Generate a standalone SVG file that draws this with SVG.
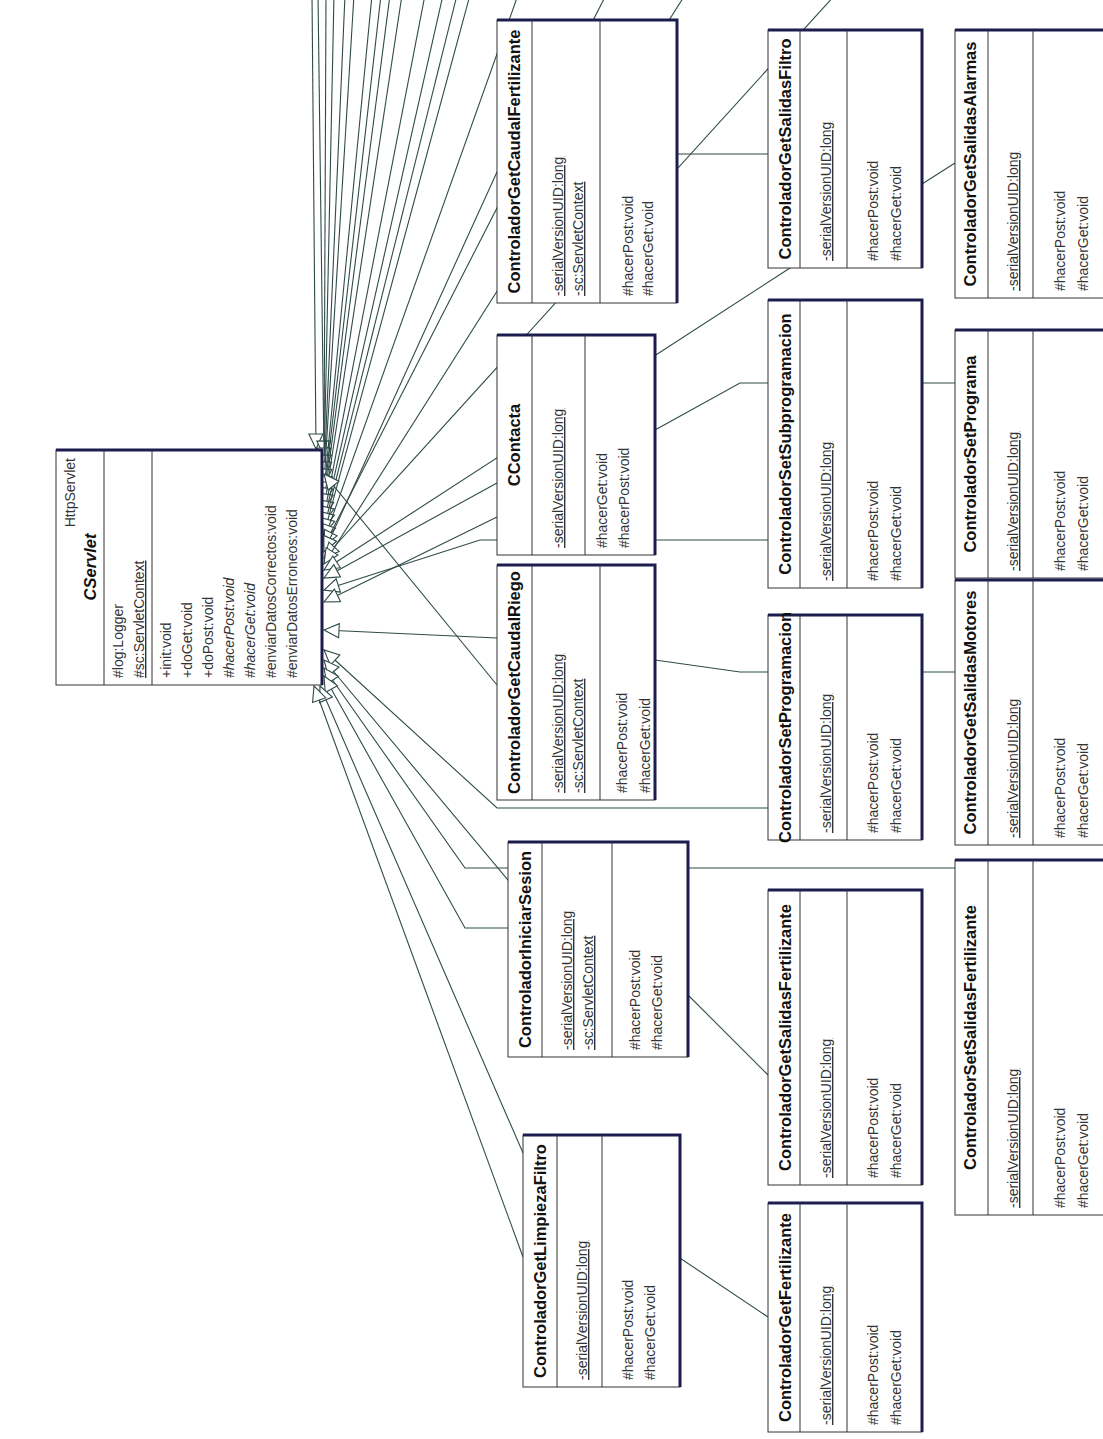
<svg xmlns="http://www.w3.org/2000/svg" width="1103" height="1439" viewBox="0 0 1103 1439">
<style>
.box{fill:#fff;stroke:#333;stroke-width:1}
.edge{fill:none;stroke:#1c1c4e;stroke-width:3}
.div{stroke:#333;stroke-width:1}
.name{font-family:"Liberation Sans",Arial,sans-serif;font-size:16.5px;font-weight:bold;fill:#111;text-anchor:middle}
.mem{font-family:"Liberation Sans",Arial,sans-serif;font-size:14px;fill:#333}
.u{text-decoration:underline}
.i{font-style:italic}
.conn{fill:none;stroke:#2f4b48;stroke-width:1.1;marker-end:url(#gen)}
</style>
<defs>
<marker id="gen" markerUnits="userSpaceOnUse" markerWidth="18" markerHeight="16" refX="15" refY="7" orient="auto" overflow="visible">
<path d="M0,0 L15,7 L0,14 Z" fill="#fff" stroke="#2f4b48" stroke-width="1.1"/>
</marker>
</defs>
<rect width="1103" height="1439" fill="#fff"/>

<!-- generalization connectors, all ending on CServlet -->
<g id="connectors">
<polyline class="conn" points="312,-5 316,449"/>
<polyline class="conn" points="318,-5 324,456"/>
<polyline class="conn" points="326,-5 324,463"/>
<polyline class="conn" points="334,-5 324,470"/>
<polyline class="conn" points="345,-5 324,477"/>
<polyline class="conn" points="354,-5 324,484"/>
<polyline class="conn" points="372,-5 324,491"/>
<polyline class="conn" points="381,-5 324,497"/>
<polyline class="conn" points="390,-5 324,503"/>
<polyline class="conn" points="402,-5 324,509"/>
<polyline class="conn" points="425,-5 324,516"/>
<polyline class="conn" points="443,-5 324,522"/>
<polyline class="conn" points="457,-5 324,528"/>
<polyline class="conn" points="470,-5 324,534"/>
<polyline class="conn" points="518,-5 324,540"/>
<polyline class="conn" points="606,-5 324,546"/>
<polyline class="conn" points="768,154 677,154 497,172 324,552"/>
<polyline class="conn" points="835,-5 324,558"/>
<polyline class="conn" points="685,-5 324,564"/>
<polyline class="conn" points="955,163 790,268 324,570"/>
<polyline class="conn" points="497,685 324,474"/>
<polyline class="conn" points="497,483 324,578"/>
<polyline class="conn" points="768,540 480,540 324,590"/>
<polyline class="conn" points="955,383 740,383 655,430 497,517 324,602"/>
<polyline class="conn" points="955,672 740,672 655,660 497,638 324,630"/>
<polyline class="conn" points="768,808 497,808 324,650"/>
<polyline class="conn" points="768,1075 688,995 508,880 324,660"/>
<polyline class="conn" points="955,868 465,868 324,668"/>
<polyline class="conn" points="508,928 465,928 324,676"/>
<polyline class="conn" points="768,1317 523,1153 320,686"/>
<polyline class="conn" points="523,1257 314,686"/>
</g>

<!-- superclass -->
<g id="CServlet" transform="translate(56,450)">
<rect class="box" width="266" height="235"/>
<path class="edge" d="M0,0 H266 V235"/>
<line class="div" x1="48" y1="0" x2="48" y2="235"/>
<line class="div" x1="96" y1="0" x2="96" y2="235"/>
<text class="mem" text-anchor="end" transform="translate(19,8) rotate(-90)">HttpServlet</text>
<text class="name i" transform="translate(40,117) rotate(-90)">CServlet</text>
<text class="mem" transform="translate(67,228) rotate(-90)">#log:Logger</text>
<text class="mem u" transform="translate(88,228) rotate(-90)">#sc:ServletContext</text>
<text class="mem" transform="translate(115,228) rotate(-90)">+init:void</text>
<text class="mem" transform="translate(136,228) rotate(-90)">+doGet:void</text>
<text class="mem" transform="translate(157,228) rotate(-90)">+doPost:void</text>
<text class="mem i" transform="translate(178,228) rotate(-90)">#hacerPost:void</text>
<text class="mem i" transform="translate(199,228) rotate(-90)">#hacerGet:void</text>
<text class="mem" transform="translate(220,228) rotate(-90)">#enviarDatosCorrectos:void</text>
<text class="mem" transform="translate(241,228) rotate(-90)">#enviarDatosErroneos:void</text>
</g>

<g id="ControladorGetCaudalFertilizante" transform="translate(497,20)">
<rect class="box" width="180" height="283"/>
<path class="edge" d="M0,0 H180 V283"/>
<line class="div" x1="35" y1="0" x2="35" y2="283"/>
<line class="div" x1="103" y1="0" x2="103" y2="283"/>
<text class="name" transform="translate(23,141.5) rotate(-90)">ControladorGetCaudalFertilizante</text>
<text class="mem u" transform="translate(66,276) rotate(-90)">-serialVersionUID:long</text>
<text class="mem u" transform="translate(86,276) rotate(-90)">-sc:ServletContext</text>
<text class="mem" transform="translate(136,276) rotate(-90)">#hacerPost:void</text>
<text class="mem" transform="translate(156,276) rotate(-90)">#hacerGet:void</text>
</g>

<g id="ControladorGetSalidasFiltro" transform="translate(768,30)">
<rect class="box" width="154" height="238"/>
<path class="edge" d="M0,0 H154 V238"/>
<line class="div" x1="32" y1="0" x2="32" y2="238"/>
<line class="div" x1="79" y1="0" x2="79" y2="238"/>
<text class="name" transform="translate(23,119) rotate(-90)">ControladorGetSalidasFiltro</text>
<text class="mem u" transform="translate(63,231) rotate(-90)">-serialVersionUID:long</text>
<text class="mem" transform="translate(110,231) rotate(-90)">#hacerPost:void</text>
<text class="mem" transform="translate(133,231) rotate(-90)">#hacerGet:void</text>
</g>

<g id="ControladorGetSalidasAlarmas" transform="translate(955,30)">
<rect class="box" width="155" height="268"/>
<path class="edge" d="M0,0 H155 V268"/>
<line class="div" x1="33" y1="0" x2="33" y2="268"/>
<line class="div" x1="78" y1="0" x2="78" y2="268"/>
<text class="name" transform="translate(21,134) rotate(-90)">ControladorGetSalidasAlarmas</text>
<text class="mem u" transform="translate(63,261) rotate(-90)">-serialVersionUID:long</text>
<text class="mem" transform="translate(110,261) rotate(-90)">#hacerPost:void</text>
<text class="mem" transform="translate(133,261) rotate(-90)">#hacerGet:void</text>
</g>

<g id="CContacta" transform="translate(497,335)">
<rect class="box" width="158" height="220"/>
<path class="edge" d="M0,0 H158 V220"/>
<line class="div" x1="35" y1="0" x2="35" y2="220"/>
<line class="div" x1="88" y1="0" x2="88" y2="220"/>
<text class="name" transform="translate(23,110) rotate(-90)">CContacta</text>
<text class="mem u" transform="translate(66,213) rotate(-90)">-serialVersionUID:long</text>
<text class="mem" transform="translate(110,213) rotate(-90)">#hacerGet:void</text>
<text class="mem" transform="translate(132,213) rotate(-90)">#hacerPost:void</text>
</g>

<g id="ControladorSetSubprogramacion" transform="translate(768,300)">
<rect class="box" width="154" height="288"/>
<path class="edge" d="M0,0 H154 V288"/>
<line class="div" x1="32" y1="0" x2="32" y2="288"/>
<line class="div" x1="79" y1="0" x2="79" y2="288"/>
<text class="name" transform="translate(23,144) rotate(-90)">ControladorSetSubprogramacion</text>
<text class="mem u" transform="translate(63,281) rotate(-90)">-serialVersionUID:long</text>
<text class="mem" transform="translate(110,281) rotate(-90)">#hacerPost:void</text>
<text class="mem" transform="translate(133,281) rotate(-90)">#hacerGet:void</text>
</g>

<g id="ControladorSetPrograma" transform="translate(955,330)">
<rect class="box" width="155" height="248"/>
<path class="edge" d="M0,0 H155 V248"/>
<line class="div" x1="33" y1="0" x2="33" y2="248"/>
<line class="div" x1="78" y1="0" x2="78" y2="248"/>
<text class="name" transform="translate(21,124) rotate(-90)">ControladorSetPrograma</text>
<text class="mem u" transform="translate(63,241) rotate(-90)">-serialVersionUID:long</text>
<text class="mem" transform="translate(110,241) rotate(-90)">#hacerPost:void</text>
<text class="mem" transform="translate(133,241) rotate(-90)">#hacerGet:void</text>
</g>

<g id="ControladorGetCaudalRiego" transform="translate(497,565)">
<rect class="box" width="158" height="235"/>
<path class="edge" d="M0,0 H158 V235"/>
<line class="div" x1="35" y1="0" x2="35" y2="235"/>
<line class="div" x1="103" y1="0" x2="103" y2="235"/>
<text class="name" transform="translate(23,117.5) rotate(-90)">ControladorGetCaudalRiego</text>
<text class="mem u" transform="translate(66,228) rotate(-90)">-serialVersionUID:long</text>
<text class="mem u" transform="translate(86,228) rotate(-90)">-sc:ServletContext</text>
<text class="mem" transform="translate(130,228) rotate(-90)">#hacerPost:void</text>
<text class="mem" transform="translate(153,228) rotate(-90)">#hacerGet:void</text>
</g>

<g id="ControladorSetProgramacion" transform="translate(768,615)">
<rect class="box" width="154" height="225"/>
<path class="edge" d="M0,0 H154 V225"/>
<line class="div" x1="32" y1="0" x2="32" y2="225"/>
<line class="div" x1="79" y1="0" x2="79" y2="225"/>
<text class="name" transform="translate(23,112.5) rotate(-90)">ControladorSetProgramacion</text>
<text class="mem u" transform="translate(63,218) rotate(-90)">-serialVersionUID:long</text>
<text class="mem" transform="translate(110,218) rotate(-90)">#hacerPost:void</text>
<text class="mem" transform="translate(133,218) rotate(-90)">#hacerGet:void</text>
</g>

<g id="ControladorGetSalidasMotores" transform="translate(955,580)">
<rect class="box" width="155" height="265"/>
<path class="edge" d="M0,0 H155 V265"/>
<line class="div" x1="33" y1="0" x2="33" y2="265"/>
<line class="div" x1="78" y1="0" x2="78" y2="265"/>
<text class="name" transform="translate(21,132.5) rotate(-90)">ControladorGetSalidasMotores</text>
<text class="mem u" transform="translate(63,258) rotate(-90)">-serialVersionUID:long</text>
<text class="mem" transform="translate(110,258) rotate(-90)">#hacerPost:void</text>
<text class="mem" transform="translate(133,258) rotate(-90)">#hacerGet:void</text>
</g>

<g id="ControladorIniciarSesion" transform="translate(508,842)">
<rect class="box" width="180" height="215"/>
<path class="edge" d="M0,0 H180 V215"/>
<line class="div" x1="34" y1="0" x2="34" y2="215"/>
<line class="div" x1="104" y1="0" x2="104" y2="215"/>
<text class="name" transform="translate(23,107.5) rotate(-90)">ControladorIniciarSesion</text>
<text class="mem u" transform="translate(64,208) rotate(-90)">-serialVersionUID:long</text>
<text class="mem u" transform="translate(85,208) rotate(-90)">-sc:ServletContext</text>
<text class="mem" transform="translate(132,208) rotate(-90)">#hacerPost:void</text>
<text class="mem" transform="translate(154,208) rotate(-90)">#hacerGet:void</text>
</g>

<g id="ControladorGetSalidasFertilizante" transform="translate(768,890)">
<rect class="box" width="154" height="295"/>
<path class="edge" d="M0,0 H154 V295"/>
<line class="div" x1="32" y1="0" x2="32" y2="295"/>
<line class="div" x1="79" y1="0" x2="79" y2="295"/>
<text class="name" transform="translate(23,147.5) rotate(-90)">ControladorGetSalidasFertilizante</text>
<text class="mem u" transform="translate(63,288) rotate(-90)">-serialVersionUID:long</text>
<text class="mem" transform="translate(110,288) rotate(-90)">#hacerPost:void</text>
<text class="mem" transform="translate(133,288) rotate(-90)">#hacerGet:void</text>
</g>

<g id="ControladorSetSalidasFertilizante" transform="translate(955,860)">
<rect class="box" width="155" height="355"/>
<path class="edge" d="M0,0 H155 V355"/>
<line class="div" x1="33" y1="0" x2="33" y2="355"/>
<line class="div" x1="78" y1="0" x2="78" y2="355"/>
<text class="name" transform="translate(21,177.5) rotate(-90)">ControladorSetSalidasFertilizante</text>
<text class="mem u" transform="translate(63,348) rotate(-90)">-serialVersionUID:long</text>
<text class="mem" transform="translate(110,348) rotate(-90)">#hacerPost:void</text>
<text class="mem" transform="translate(133,348) rotate(-90)">#hacerGet:void</text>
</g>

<g id="ControladorGetLimpiezaFiltro" transform="translate(523,1135)">
<rect class="box" width="157" height="252"/>
<path class="edge" d="M0,0 H157 V252"/>
<line class="div" x1="34" y1="0" x2="34" y2="252"/>
<line class="div" x1="79" y1="0" x2="79" y2="252"/>
<text class="name" transform="translate(23,126) rotate(-90)">ControladorGetLimpiezaFiltro</text>
<text class="mem u" transform="translate(64,245) rotate(-90)">-serialVersionUID:long</text>
<text class="mem" transform="translate(110,245) rotate(-90)">#hacerPost:void</text>
<text class="mem" transform="translate(132,245) rotate(-90)">#hacerGet:void</text>
</g>

<g id="ControladorGetFertilizante" transform="translate(768,1203)">
<rect class="box" width="154" height="229"/>
<path class="edge" d="M0,0 H154 V229"/>
<line class="div" x1="32" y1="0" x2="32" y2="229"/>
<line class="div" x1="79" y1="0" x2="79" y2="229"/>
<text class="name" transform="translate(23,114.5) rotate(-90)">ControladorGetFertilizante</text>
<text class="mem u" transform="translate(63,222) rotate(-90)">-serialVersionUID:long</text>
<text class="mem" transform="translate(110,222) rotate(-90)">#hacerPost:void</text>
<text class="mem" transform="translate(133,222) rotate(-90)">#hacerGet:void</text>
</g>
</svg>
